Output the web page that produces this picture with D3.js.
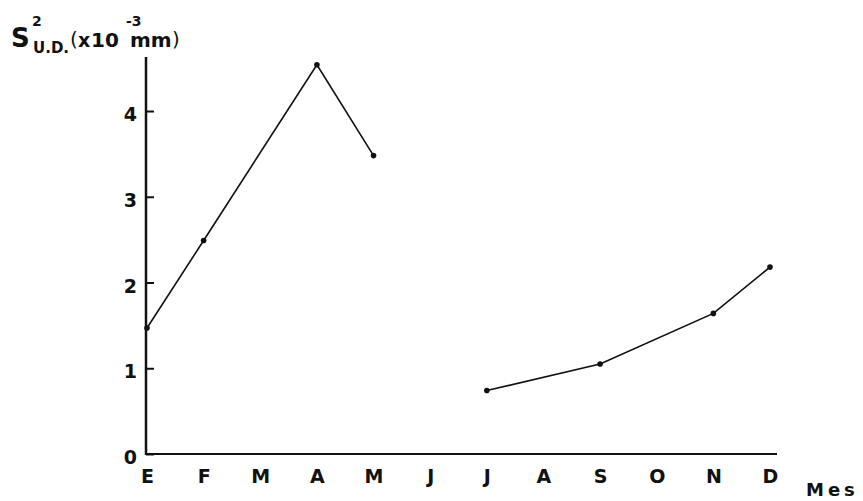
<!DOCTYPE html>
<html>
<head>
<meta charset="utf-8">
<script src="https://cdn.jsdelivr.net/npm/d3@7"></script>
<style>
  html, body { margin: 0; padding: 0; background: #fff; }
  svg { display: block; }
  text { font-family: "DejaVu Sans", sans-serif; fill: #111; }
</style>
</head>
<body>
<svg id="chart" width="863" height="501"></svg>
<script>
// Month initials (Spanish), January .. December
const months = ["E", "F", "M", "A", "M", "J", "J", "A", "S", "O", "N", "D"];

// First sampling period: month index and variance S²U.D. (x10⁻³ mm)
const firstMonths = [0, 1, 3, 4];
const firstValues = [1.47, 2.49, 4.54, 3.48];

// Second sampling period
const secondMonths = [6, 8, 10, 11];
const secondValues = [0.74, 1.05, 1.64, 2.18];

const yTicks = [0, 1, 2, 3, 4];

const svg = d3.select("#chart");

const x = d3.scalePoint()
  .domain(d3.range(months.length))
  .range([147, 770]);

const y = d3.scaleLinear()
  .domain([0, 4.63])
  .range([454, 57]);

const ink = "#111";

// y axis: ticks point inward
const yAxis = d3.axisLeft(y)
  .tickValues(yTicks)
  .tickFormat(d3.format("d"))
  .tickSizeInner(-8)
  .tickSizeOuter(0)
  .tickPadding(9);

const gy = svg.append("g")
  .attr("transform", "translate(146,0)")
  .call(yAxis);
gy.select(".domain").remove();
gy.selectAll(".tick line").attr("stroke", ink).attr("stroke-width", 2);
gy.selectAll(".tick text")
  .attr("fill", ink)
  .attr("dy", "0.5em")
  .style("font-size", "19px")
  .style("font-weight", "bold")
  .style("font-family", "DejaVu Sans, sans-serif");
gy.append("line")
  .attr("x1", 0).attr("x2", 0)
  .attr("y1", y(0) + 1).attr("y2", y.range()[1])
  .attr("stroke", ink).attr("stroke-width", 2.5);

// x axis: month letters, no tick marks
const xAxis = d3.axisBottom(x)
  .tickFormat(i => months[i])
  .tickSize(0)
  .tickPadding(16);

const gx = svg.append("g")
  .attr("transform", `translate(0,${y(0)})`)
  .call(xAxis);
gx.select(".domain").remove();
gx.selectAll(".tick text")
  .attr("fill", ink)
  .style("font-size", "19px")
  .style("font-weight", "bold")
  .style("font-family", "DejaVu Sans, sans-serif");
gx.append("line")
  .attr("x1", 145).attr("x2", 777)
  .attr("y1", 0).attr("y2", 0)
  .attr("stroke", ink).attr("stroke-width", 2);

svg.append("text")
  .attr("x", 806).attr("y", 496)
  .style("font-size", "18px")
  .style("font-weight", "bold")
  .style("letter-spacing", "4px")
  .text("Mes");

// series
const periods = [
  firstMonths.map((m, i) => ({ m, v: firstValues[i] })),
  secondMonths.map((m, i) => ({ m, v: secondValues[i] }))
];

const line = d3.line().x(d => x(d.m)).y(d => y(d.v));

svg.append("g").selectAll("path")
  .data(periods)
  .join("path")
  .attr("d", line)
  .attr("fill", "none")
  .attr("stroke", ink)
  .attr("stroke-width", 1.6);

svg.append("g").selectAll("circle")
  .data(periods.flat())
  .join("circle")
  .attr("cx", d => x(d.m))
  .attr("cy", d => y(d.v))
  .attr("r", 2.8)
  .attr("fill", ink);

// y-axis title: S²U.D. (x10⁻³ mm)
const title = svg.append("g").style("font-weight", "bold");
title.append("text").attr("x", 11).attr("y", 47).style("font-size", "26px").text("S");
title.append("text").attr("x", 32).attr("y", 26).style("font-size", "14px").text("2");
title.append("text").attr("x", 33).attr("y", 53).style("font-size", "15px").text("U.D.");
title.append("text").attr("x", 70).attr("y", 46).style("font-size", "20px")
  .style("font-weight", "normal").text("(");
title.append("text").attr("x", 78).attr("y", 47).style("font-size", "19px").text("x");
title.append("text").attr("x", 91).attr("y", 47).style("font-size", "20px").text("10");
title.append("text").attr("x", 126).attr("y", 26).style("font-size", "14px").text("-3");
title.append("text").attr("x", 130).attr("y", 47).style("font-size", "20px").text("mm");
title.append("text").attr("x", 172).attr("y", 46).style("font-size", "20px")
  .style("font-weight", "normal").text(")");
</script>
</body>
</html>
